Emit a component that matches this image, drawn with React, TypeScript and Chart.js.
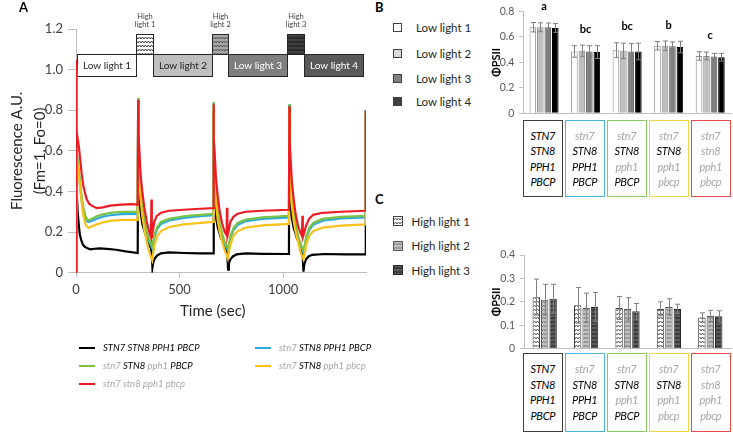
import React, { useEffect, useMemo, useRef } from 'react';
import { Chart, registerables } from 'chart.js';
Chart.register(...registerables);

const FONT = 'Lato, "Open Sans", "Liberation Sans", sans-serif';
Chart.defaults.font.family = FONT;

// ---------------- Panel A data ----------------
const timeTicks = [0, 500, 1000];
const seriesNames = [
  'STN7 STN8 PPH1 PBCP',
  'stn7 STN8 PPH1 PBCP',
  'stn7 STN8 pph1 PBCP',
  'stn7 STN8 pph1 pbcp',
  'stn7 stn8 pph1 pbcp',
];
const traceWT: [number, number][] = [
  [0, 0], [1, 0.46], [4, 0.42], [8, 0.3], [13, 0.24], [18, 0.19], [24, 0.165], [32, 0.14], [40, 0.13], [55, 0.12], [70, 0.115], [90, 0.118], [113, 0.12], [150, 0.117], [193, 0.113], [240, 0.105], [298, 0.097],
  [300, 0.8], [302, 0.45], [306, 0.36], [312, 0.3], [320, 0.24], [335, 0.19], [350, 0.15], [362, 0.12], [366, 0.09], [369, 0.025], [373, 0.05], [380, 0.07], [392, 0.085], [410, 0.095], [450, 0.1], [520, 0.097], [600, 0.095], [662, 0.095],
  [664, 0.8], [666, 0.45], [670, 0.34], [676, 0.27], [685, 0.22], [700, 0.17], [715, 0.14], [727, 0.11], [731, 0.08], [734, 0.015], [738, 0.045], [745, 0.065], [757, 0.08], [775, 0.09], [820, 0.095], [900, 0.093], [1028, 0.092],
  [1030, 0.8], [1032, 0.45], [1036, 0.34], [1042, 0.27], [1051, 0.22], [1066, 0.17], [1081, 0.14], [1092, 0.11], [1095, 0.07], [1098, 0.005], [1102, 0.04], [1110, 0.065], [1122, 0.08], [1140, 0.088], [1200, 0.092], [1300, 0.09], [1396, 0.09], [1399, 0.78],
];
const traceStn7: [number, number][] = [
  [0, 0], [1, 1.0], [3, 0.6], [8, 0.53], [14, 0.48], [20, 0.42], [28, 0.35], [36, 0.3], [45, 0.27], [55, 0.252], [62, 0.25], [75, 0.255], [100, 0.266], [130, 0.276], [165, 0.283], [220, 0.288], [298, 0.29],
  [300, 0.86], [302, 0.56], [306, 0.48], [312, 0.38], [320, 0.31], [330, 0.25], [342, 0.19], [354, 0.15], [364, 0.13], [368, 0.12], [372, 0.14], [380, 0.18], [392, 0.215], [410, 0.24], [450, 0.257], [520, 0.27], [600, 0.278], [662, 0.283],
  [664, 0.84], [666, 0.54], [670, 0.46], [676, 0.36], [684, 0.29], [694, 0.23], [706, 0.18], [718, 0.14], [728, 0.12], [733, 0.11], [738, 0.13], [746, 0.17], [760, 0.21], [780, 0.235], [820, 0.254], [900, 0.265], [1028, 0.272],
  [1030, 0.83], [1032, 0.53], [1036, 0.45], [1042, 0.35], [1050, 0.29], [1060, 0.23], [1072, 0.17], [1084, 0.13], [1094, 0.11], [1098, 0.1], [1103, 0.12], [1112, 0.17], [1126, 0.21], [1145, 0.236], [1190, 0.256], [1280, 0.267], [1396, 0.272], [1399, 0.8],
];
const traceStn7Pph1: [number, number][] = [
  [0, 0], [1, 1.02], [3, 0.62], [8, 0.55], [14, 0.5], [20, 0.44], [28, 0.37], [36, 0.32], [45, 0.28], [55, 0.26], [62, 0.258], [75, 0.265], [100, 0.278], [130, 0.287], [165, 0.295], [220, 0.3], [298, 0.3],
  [300, 0.86], [302, 0.58], [306, 0.5], [312, 0.4], [320, 0.33], [330, 0.26], [342, 0.2], [354, 0.16], [364, 0.14], [368, 0.13], [372, 0.15], [380, 0.19], [392, 0.225], [410, 0.25], [450, 0.265], [520, 0.278], [600, 0.285], [662, 0.29],
  [664, 0.84], [666, 0.56], [670, 0.48], [676, 0.38], [684, 0.3], [694, 0.24], [706, 0.19], [718, 0.15], [728, 0.13], [733, 0.12], [738, 0.14], [746, 0.18], [760, 0.22], [780, 0.245], [820, 0.262], [900, 0.272], [1028, 0.28],
  [1030, 0.83], [1032, 0.55], [1036, 0.47], [1042, 0.37], [1050, 0.3], [1060, 0.24], [1072, 0.18], [1084, 0.14], [1094, 0.12], [1098, 0.11], [1103, 0.13], [1112, 0.18], [1126, 0.22], [1145, 0.245], [1190, 0.265], [1280, 0.275], [1396, 0.28], [1399, 0.8],
];
const traceStn7Pph1Pbcp: [number, number][] = [
  [0, 0], [1, 0.98], [3, 0.57], [8, 0.52], [14, 0.47], [20, 0.42], [28, 0.34], [36, 0.28], [45, 0.24], [55, 0.225], [62, 0.22], [75, 0.228], [100, 0.238], [130, 0.248], [165, 0.255], [220, 0.26], [298, 0.26],
  [300, 0.84], [302, 0.52], [306, 0.45], [312, 0.36], [320, 0.28], [330, 0.21], [342, 0.15], [354, 0.1], [364, 0.07], [368, 0.06], [372, 0.09], [380, 0.14], [392, 0.18], [410, 0.205], [450, 0.225], [520, 0.238], [600, 0.245], [662, 0.25],
  [664, 0.82], [666, 0.5], [670, 0.43], [676, 0.34], [684, 0.26], [694, 0.2], [706, 0.15], [718, 0.11], [728, 0.085], [733, 0.07], [738, 0.1], [746, 0.14], [760, 0.18], [780, 0.205], [820, 0.222], [900, 0.233], [1028, 0.24],
  [1030, 0.81], [1032, 0.5], [1036, 0.42], [1042, 0.33], [1050, 0.26], [1060, 0.2], [1072, 0.15], [1084, 0.1], [1094, 0.075], [1098, 0.065], [1103, 0.09], [1112, 0.14], [1126, 0.18], [1145, 0.205], [1190, 0.222], [1280, 0.232], [1396, 0.238], [1399, 0.78],
];
const traceQuad: [number, number][] = [
  [0, 0], [1, 1.05], [3, 0.7], [8, 0.66], [14, 0.62], [19, 0.57], [27, 0.49], [35, 0.43], [44, 0.39], [52, 0.36], [64, 0.34], [76, 0.33], [100, 0.318], [130, 0.322], [165, 0.33], [220, 0.335], [270, 0.338], [298, 0.335],
  [300, 0.85], [302, 0.68], [306, 0.6], [312, 0.48], [320, 0.4], [330, 0.32], [342, 0.25], [354, 0.2], [362, 0.175], [364, 0.36], [366, 0.17], [370, 0.2], [378, 0.25], [390, 0.28], [410, 0.295], [450, 0.305], [520, 0.31], [600, 0.315], [662, 0.318],
  [664, 0.83], [666, 0.66], [670, 0.58], [676, 0.46], [684, 0.38], [694, 0.3], [706, 0.24], [718, 0.2], [727, 0.185], [729, 0.32], [731, 0.18], [736, 0.2], [745, 0.25], [760, 0.275], [780, 0.29], [820, 0.3], [900, 0.305], [1028, 0.31],
  [1030, 0.82], [1032, 0.64], [1036, 0.56], [1042, 0.45], [1050, 0.37], [1060, 0.29], [1072, 0.23], [1084, 0.195], [1091, 0.18], [1093, 0.28], [1095, 0.175], [1100, 0.19], [1110, 0.23], [1125, 0.265], [1145, 0.285], [1190, 0.295], [1280, 0.3], [1396, 0.305], [1399, 0.8],
];
const traces = [traceWT, traceStn7, traceStn7Pph1, traceStn7Pph1Pbcp, traceQuad];

const lowLightLabels = ['Low light 1', 'Low light 2', 'Low light 3', 'Low light 4'];
const lowLightPhases: [number, number][] = [[3, 290], [371, 656], [735, 1019], [1101, 1385]];
const highLightLabels = ['High light 1', 'High light 2', 'High light 3'];
const highLightPhases: [number, number][] = [[290, 371], [656, 735], [1019, 1101]];

// ---------------- Panel B / C data ----------------
const genotypes = seriesNames;
const phiLL1 = [0.675, 0.485, 0.495, 0.53, 0.45];
const phiLL2 = [0.675, 0.49, 0.49, 0.53, 0.45];
const phiLL3 = [0.675, 0.485, 0.485, 0.525, 0.445];
const phiLL4 = [0.67, 0.48, 0.485, 0.52, 0.44];
const errLL1 = [0.037, 0.045, 0.058, 0.033, 0.033];
const errLL2 = [0.035, 0.045, 0.06, 0.037, 0.03];
const errLL3 = [0.033, 0.045, 0.062, 0.035, 0.025];
const errLL4 = [0.035, 0.05, 0.065, 0.045, 0.03];
const sigLetters = ['a', 'bc', 'bc', 'b', 'c'];

const phiHL1 = [0.22, 0.185, 0.174, 0.17, 0.133];
const phiHL2 = [0.209, 0.174, 0.17, 0.178, 0.14];
const phiHL3 = [0.213, 0.178, 0.16, 0.17, 0.138];
const errHL1 = [0.077, 0.076, 0.049, 0.03, 0.02];
const errHL2 = [0.066, 0.063, 0.048, 0.035, 0.024];
const errHL3 = [0.062, 0.062, 0.033, 0.02, 0.024];

// ---------------- styles ----------------
const traceColors = ['#000000', '#29abe2', '#7cc242', '#f9c21b', '#ed1c24'];
const traceOrder = [4, 3, 2, 1, 0];
const boxBorderColors = ['#404040', '#4bb6e6', '#8ccb5e', '#f2d24b', '#e54b4b'];
const lowFills = ['#ffffff', '#bfbfbf', '#7f7f7f', '#595959'];
const lowTextColors = ['#262626', '#262626', '#ffffff', '#ffffff'];
const hlBoxStyles = [
  { bg: '#ffffff', fg: '#404040' },
  { bg: '#a6a6a6', fg: '#595959' },
  { bg: '#404040', fg: '#1a1a1a' },
];
const llBarFill = ['#ffffff', '#bfbfbf', '#7f7f7f', '#000000'];
const llBarBorder = ['#8c8c8c', '#8c8c8c', '#595959', '#000000'];
const llLegendFill = ['#ffffff', '#d9d9d9', '#808080', '#404040'];
const hlBarStyles = [
  { bg: '#ffffff', fg: '#595959', border: '#404040' },
  { bg: '#c0c0c0', fg: '#7f7f7f', border: '#595959' },
  { bg: '#5a5a5a', fg: '#2a2a2a', border: '#262626' },
];

function zigzagTile(bg: string, fg: string) {
  const c = document.createElement('canvas');
  c.width = 6;
  c.height = 4;
  const g = c.getContext('2d')!;
  g.fillStyle = bg;
  g.fillRect(0, 0, 6, 4);
  g.strokeStyle = fg;
  g.lineWidth = 1;
  g.beginPath();
  g.moveTo(0, 3);
  g.lineTo(1.5, 1);
  g.lineTo(3, 3);
  g.lineTo(4.5, 1);
  g.lineTo(6, 3);
  g.stroke();
  return c;
}

const errorBarPlugin = {
  id: 'errorBars',
  afterDatasetsDraw(chart: any) {
    const { ctx } = chart;
    const y = chart.scales.y;
    ctx.save();
    ctx.strokeStyle = '#808080';
    ctx.lineWidth = 1;
    chart.data.datasets.forEach((ds: any, di: number) => {
      const meta = chart.getDatasetMeta(di);
      meta.data.forEach((bar: any, i: number) => {
        const v = ds.data[i];
        const e = ds.errors[i];
        const yt = y.getPixelForValue(v + e);
        const yb = y.getPixelForValue(v - e);
        const x = Math.round(bar.x) + 0.5;
        ctx.beginPath();
        ctx.moveTo(x, yt);
        ctx.lineTo(x, yb);
        ctx.moveTo(x - 2.5, yt);
        ctx.lineTo(x + 2.5, yt);
        ctx.moveTo(x - 2.5, yb);
        ctx.lineTo(x + 2.5, yb);
        ctx.stroke();
      });
    });
    ctx.restore();
  },
};

function Words({ text }: { text: string }) {
  return (
    <>
      {text.split(' ').map((w, i) => (
        <span key={i} style={{ color: w === w.toLowerCase() ? '#a6a6a6' : '#000000' }}>
          {i ? ' ' : ''}
          {w}
        </span>
      ))}
    </>
  );
}

const legendSlots = [
  { col: 0, row: 0 },
  { col: 1, row: 0 },
  { col: 0, row: 1 },
  { col: 1, row: 1 },
  { col: 0, row: 2 },
];
const legendColX = [79, 255];
const legendRowY = [348, 366, 384];

function GenotypeBoxes({ top, height }: { top: number; height: number }) {
  return (
    <>
      {genotypes.map((g, i) => (
        <div
          key={g}
          style={{
            position: 'absolute',
            left: 522.5 + i * 42,
            top,
            width: 40.5,
            height,
            boxSizing: 'border-box',
            border: `1.5px solid ${boxBorderColors[i]}`,
            display: 'flex',
            flexDirection: 'column',
            alignItems: 'center',
            justifyContent: 'center',
            fontStyle: 'italic',
            fontSize: 11,
            lineHeight: '15.5px',
            letterSpacing: -0.3,
            background: '#ffffff',
          }}
        >
          {g.split(' ').map((w, j) => (
            <div key={j} style={{ color: w === w.toLowerCase() ? '#a6a6a6' : '#000000' }}>
              {w}
            </div>
          ))}
        </div>
      ))}
    </>
  );
}

export default function App() {
  const refA = useRef<HTMLCanvasElement>(null);
  const refB = useRef<HTMLCanvasElement>(null);
  const refC = useRef<HTMLCanvasElement>(null);
  const hlLegendTiles = useMemo(() => hlBarStyles.map((s) => zigzagTile(s.bg, s.fg).toDataURL()), []);

  useEffect(() => {
    // ---------- Panel A ----------
    const ctxA = refA.current!.getContext('2d')!;
    const hlPatterns = hlBoxStyles.map((s) => ctxA.createPattern(zigzagTile(s.bg, s.fg), 'repeat'));
    const lightBoxes = {
      id: 'lightBoxes',
      beforeDatasetsDraw(chart: any) {
        const { ctx } = chart;
        const x = chart.scales.x;
        const y = chart.scales.y;
        const yLowTop = y.getPixelForValue(1.075);
        const yLowBot = y.getPixelForValue(0.968);
        const yHighTop = y.getPixelForValue(1.177);
        ctx.save();
        ctx.lineWidth = 1;
        ctx.strokeStyle = '#262626';
        highLightPhases.forEach(([s, e], i) => {
          const x0 = Math.round(x.getPixelForValue(s)) + 0.5;
          const x1 = Math.round(x.getPixelForValue(e)) + 0.5;
          const t = Math.round(yHighTop) + 0.5;
          const b = Math.round(yLowTop) + 0.5;
          ctx.fillStyle = hlPatterns[i];
          ctx.fillRect(x0, t, x1 - x0, b - t);
          ctx.strokeRect(x0, t, x1 - x0, b - t);
          const words = highLightLabels[i].split(' ');
          ctx.fillStyle = '#404040';
          ctx.font = `7.5px ${FONT}`;
          ctx.textAlign = 'center';
          ctx.textBaseline = 'middle';
          const cx = (x0 + x1) / 2;
          ctx.fillText(words[0], cx, yHighTop - 17);
          ctx.fillText(words.slice(1).join(' '), cx, yHighTop - 9);
        });
        lowLightPhases.forEach(([s, e], i) => {
          const x0 = Math.round(x.getPixelForValue(s)) + 0.5;
          const x1 = Math.round(x.getPixelForValue(e)) + 0.5;
          const t = Math.round(yLowTop) + 0.5;
          const b = Math.round(yLowBot) + 0.5;
          ctx.fillStyle = lowFills[i];
          ctx.fillRect(x0, t, x1 - x0, b - t);
          ctx.strokeRect(x0, t, x1 - x0, b - t);
          ctx.fillStyle = lowTextColors[i];
          ctx.font = `10px ${FONT}`;
          ctx.textAlign = 'center';
          ctx.textBaseline = 'middle';
          ctx.fillText(lowLightLabels[i], (x0 + x1) / 2, (t + b) / 2 + 0.5);
        });
        ctx.restore();
      },
    };

    const chartA = new Chart(refA.current!, {
      type: 'line',
      data: {
        datasets: traces.map((tr, i) => ({
          label: seriesNames[i],
          data: tr.map(([t, v]) => ({ x: t, y: v })),
          borderColor: traceColors[i],
          backgroundColor: traceColors[i],
          borderWidth: 2.2,
          pointRadius: 0,
          tension: 0,
          fill: false,
          order: traceOrder[i],
        })),
      },
      options: {
        responsive: false,
        animation: false,
        devicePixelRatio: 1,
        layout: { padding: { top: 29, right: 4, left: 0, bottom: 0 } },
        plugins: { legend: { display: false }, tooltip: { enabled: false } },
        scales: {
          x: {
            type: 'linear',
            min: 0,
            max: 1400,
            afterBuildTicks: (s: any) => {
              s.ticks = timeTicks.map((v) => ({ value: v }));
            },
            afterFit: (s: any) => {
              s.height = 47.3;
            },
            grid: { drawOnChartArea: false, drawTicks: true, tickLength: 5, color: '#bfbfbf' },
            border: { color: '#bfbfbf' },
            ticks: { font: { size: 13 }, color: '#404040', padding: 4, maxRotation: 0, callback: (v: any) => String(v) },
            title: { display: false },
          },
          y: {
            min: 0,
            max: 1.2,
            afterFit: (s: any) => {
              s.width = 76;
            },
            grid: { drawOnChartArea: false, drawTicks: true, tickLength: 8, color: '#bfbfbf' },
            border: { color: '#bfbfbf' },
            ticks: { stepSize: 0.2, font: { size: 13 }, color: '#404040', padding: 5 },
            title: {
              display: true,
              text: ['Fluorescence A.U.', '(Fm=1, Fo=0)'],
              font: { size: 15, lineHeight: 1.5 },
              color: '#262626',
              padding: { top: 6, bottom: 0 },
            },
          },
        },
      } as any,
      plugins: [lightBoxes],
    });

    // ---------- Panel B ----------
    const lettersPlugin = {
      id: 'sigLetters',
      afterDatasetsDraw(chart: any) {
        const { ctx } = chart;
        const x = chart.scales.x;
        const y = chart.scales.y;
        ctx.save();
        ctx.fillStyle = '#000000';
        ctx.font = `bold 11px ${FONT}`;
        ctx.textAlign = 'center';
        ctx.textBaseline = 'middle';
        sigLetters.forEach((l, i) => {
          let top = 0;
          chart.data.datasets.forEach((ds: any) => {
            top = Math.max(top, ds.data[i] + ds.errors[i]);
          });
          ctx.fillText(l, x.getPixelForValue(i), y.getPixelForValue(top) - 16);
        });
        ctx.restore();
      },
    };
    const llData = [phiLL1, phiLL2, phiLL3, phiLL4];
    const llErr = [errLL1, errLL2, errLL3, errLL4];
    const chartB = new Chart(refB.current!, {
      type: 'bar',
      data: {
        labels: genotypes,
        datasets: llData.map((d, i) => ({
          label: lowLightLabels[i],
          data: d,
          errors: llErr[i],
          backgroundColor: llBarFill[i],
          borderColor: llBarBorder[i],
          borderWidth: 1,
          categoryPercentage: 0.72,
          barPercentage: 0.88,
        })),
      },
      options: {
        responsive: false,
        animation: false,
        devicePixelRatio: 1,
        layout: { padding: { top: 9.3, right: 2, left: 0, bottom: 0 } },
        plugins: { legend: { display: false }, tooltip: { enabled: false } },
        scales: {
          x: {
            afterFit: (s: any) => {
              s.height = 11.7;
            },
            grid: { display: false },
            border: { color: '#bfbfbf' },
            ticks: { display: false },
          },
          y: {
            min: 0,
            max: 0.8,
            afterFit: (s: any) => {
              s.width = 38.3;
            },
            grid: { drawOnChartArea: false, drawTicks: true, tickLength: 4, color: '#bfbfbf' },
            border: { color: '#bfbfbf' },
            ticks: { stepSize: 0.2, font: { size: 10.5 }, color: '#595959', padding: 5 },
            title: {
              display: true,
              text: 'ΦPSII',
              font: { size: 11, weight: 'bold' },
              color: '#000000',
              padding: { top: 5, bottom: 0 },
            },
          },
        },
      } as any,
      plugins: [errorBarPlugin, lettersPlugin],
    });

    // ---------- Panel C ----------
    const ctxC = refC.current!.getContext('2d')!;
    const hlBarPatterns = hlBarStyles.map((s) => ctxC.createPattern(zigzagTile(s.bg, s.fg), 'repeat'));
    const hlData = [phiHL1, phiHL2, phiHL3];
    const hlErr = [errHL1, errHL2, errHL3];
    const chartC = new Chart(refC.current!, {
      type: 'bar',
      data: {
        labels: genotypes,
        datasets: hlData.map((d, i) => ({
          label: highLightLabels[i],
          data: d,
          errors: hlErr[i],
          backgroundColor: hlBarPatterns[i],
          borderColor: hlBarStyles[i].border,
          borderWidth: 1,
          categoryPercentage: 0.61,
          barPercentage: 0.88,
        })),
      },
      options: {
        responsive: false,
        animation: false,
        devicePixelRatio: 1,
        layout: { padding: { top: 15, right: 2, left: 0, bottom: 0 } },
        plugins: { legend: { display: false }, tooltip: { enabled: false } },
        scales: {
          x: {
            afterFit: (s: any) => {
              s.height = 10.7;
            },
            grid: { display: false },
            border: { color: '#bfbfbf' },
            ticks: { display: false },
          },
          y: {
            min: 0,
            max: 0.4,
            afterFit: (s: any) => {
              s.width = 39;
            },
            grid: { drawOnChartArea: false, drawTicks: true, tickLength: 4, color: '#bfbfbf' },
            border: { color: '#bfbfbf' },
            ticks: { stepSize: 0.1, font: { size: 10.5 }, color: '#595959', padding: 5 },
            title: {
              display: true,
              text: 'ΦPSII',
              font: { size: 11, weight: 'bold' },
              color: '#000000',
              padding: { top: 5, bottom: 0 },
            },
          },
        },
      } as any,
      plugins: [errorBarPlugin],
    });

    return () => {
      chartA.destroy();
      chartB.destroy();
      chartC.destroy();
    };
  }, []);

  const bLegendY = [27.5, 53, 78.5, 101];
  const cLegendY = [221, 245.5, 270];

  return (
    <div
      style={{
        position: 'fixed',
        left: 0,
        top: 0,
        width: 733,
        height: 435,
        background: '#ffffff',
        overflow: 'hidden',
        fontFamily: FONT,
      }}
    >
      <canvas ref={refA} width={370} height={320} style={{ position: 'absolute', left: 0, top: 0 }} />
      <canvas ref={refB} width={248} height={125} style={{ position: 'absolute', left: 485, top: 0 }} />
      <canvas ref={refC} width={248} height={120} style={{ position: 'absolute', left: 485, top: 240 }} />

      <div style={{ position: 'absolute', left: 180, top: 300, fontSize: 15, lineHeight: '20px', color: '#262626', whiteSpace: 'nowrap' }}>
        Time (sec)
      </div>

      <div style={{ position: 'absolute', left: 19, top: 0, fontWeight: 'bold', fontSize: 13, lineHeight: '15px' }}>A</div>
      <div style={{ position: 'absolute', left: 375, top: 0, fontWeight: 'bold', fontSize: 13, lineHeight: '15px' }}>B</div>
      <div style={{ position: 'absolute', left: 375, top: 192, fontWeight: 'bold', fontSize: 13, lineHeight: '15px' }}>C</div>

      {seriesNames.map((name, i) => {
        const slot = legendSlots[i];
        const x = legendColX[slot.col];
        const y = legendRowY[slot.row];
        return (
          <React.Fragment key={name}>
            <div style={{ position: 'absolute', left: x, top: y - 1, width: 16, height: 2, background: traceColors[i] }} />
            <div
              style={{
                position: 'absolute',
                left: x + 24,
                top: y - 6,
                fontStyle: 'italic',
                fontSize: 9.5,
                lineHeight: '12px',
                whiteSpace: 'nowrap',
              }}
            >
              <Words text={name} />
            </div>
          </React.Fragment>
        );
      })}

      {lowLightLabels.map((l, i) => (
        <React.Fragment key={l}>
          <div
            style={{
              position: 'absolute',
              left: 393,
              top: bLegendY[i] - 4.5,
              width: 9,
              height: 9,
              boxSizing: 'border-box',
              border: '1px solid #404040',
              background: llLegendFill[i],
            }}
          />
          <div style={{ position: 'absolute', left: 416, top: bLegendY[i] - 7.5, fontSize: 11.5, lineHeight: '15px', color: '#262626', whiteSpace: 'nowrap' }}>
            {l}
          </div>
        </React.Fragment>
      ))}

      {highLightLabels.map((l, i) => (
        <React.Fragment key={l}>
          <div
            style={{
              position: 'absolute',
              left: 393,
              top: cLegendY[i] - 5,
              width: 10,
              height: 10,
              boxSizing: 'border-box',
              border: `1px solid ${hlBarStyles[i].border}`,
              backgroundImage: `url(${hlLegendTiles[i]})`,
            }}
          />
          <div style={{ position: 'absolute', left: 411.5, top: cLegendY[i] - 7.5, fontSize: 11.5, lineHeight: '15px', color: '#262626', whiteSpace: 'nowrap' }}>
            {l}
          </div>
        </React.Fragment>
      ))}

      <GenotypeBoxes top={120} height={77} />
      <GenotypeBoxes top={352.5} height={79} />
    </div>
  );
}
